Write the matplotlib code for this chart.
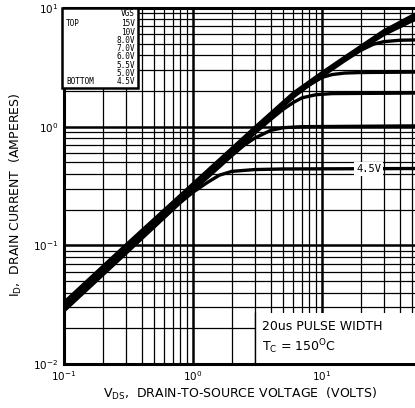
import numpy as np
import matplotlib
matplotlib.use('Agg')
import matplotlib.pyplot as plt
from matplotlib.patches import Rectangle
from matplotlib.ticker import LogLocator, NullFormatter

# drain curves (VDS in volts, ID in amperes)
vds_15v = [0.1, 0.3, 1, 3, 6, 10, 15, 20, 30, 50, 100]
id_15v = [0.033, 0.100, 0.33, 0.98, 1.92, 2.85, 3.85, 4.75, 6.4, 8.6, 12.5]

vds_10v = [0.1, 0.3, 1, 3, 6, 10, 15, 20, 30, 50, 100]
id_10v = [0.032, 0.097, 0.32, 0.96, 1.88, 2.78, 3.75, 4.6, 6.15, 8.2, 11.5]

vds_8v = [0.1, 0.3, 1, 3, 6, 10, 15, 20, 30, 50, 100]
id_8v = [0.031, 0.095, 0.31, 0.94, 1.85, 2.72, 3.68, 4.5, 5.95, 7.8, 10.2]

vds_7v = [0.1, 0.3, 1, 3, 6, 10, 15, 20, 25, 30, 40, 100]
id_7v = [0.031, 0.093, 0.31, 0.92, 1.82, 2.66, 3.6, 4.4, 4.95, 5.2, 5.35, 5.45]

vds_6v = [0.1, 0.3, 1, 3, 6, 8, 10, 12, 15, 20, 100]
id_6v = [0.030, 0.091, 0.30, 0.90, 1.78, 2.25, 2.6, 2.75, 2.83, 2.86, 2.9]

vds_55v = [0.1, 0.3, 1, 3, 4, 5, 6, 7, 9, 12, 100]
id_55v = [0.030, 0.090, 0.30, 0.88, 1.15, 1.4, 1.6, 1.75, 1.86, 1.9, 1.93]

vds_5v = [0.1, 0.3, 1, 2, 2.5, 3, 4, 5, 7, 100]
id_5v = [0.029, 0.088, 0.29, 0.57, 0.70, 0.80, 0.93, 0.98, 1.0, 1.02]

vds_45v = [0.1, 0.3, 0.8, 1, 1.3, 1.6, 2, 3, 5, 100]
id_45v = [0.028, 0.085, 0.23, 0.28, 0.34, 0.39, 0.42, 0.435, 0.44, 0.445]

legend_vgs = ['15V', '10V', '8.0V', '7.0V', '6.0V', '5.5V', '5.0V', '4.5V']
x_ticks = [0.1, 1, 10]
y_ticks = [0.01, 0.1, 1, 10]

W, H = 415, 408


def fx(px):
    return px / W


def fy(py):
    # pixel row from top -> figure fraction from bottom
    return 1 - py / H


fig = plt.figure(figsize=(W / 100, H / 100), dpi=100)
ax = fig.add_axes([fx(64), fy(364), fx(387), 356 / H])
ax.set_xscale('log')
ax.set_yscale('log')
ax.set_xlim(0.1, 100)
ax.set_ylim(0.01, 10)

ax.xaxis.set_minor_locator(LogLocator(base=10, subs=np.arange(2, 10)))
ax.yaxis.set_minor_locator(LogLocator(base=10, subs=np.arange(2, 10)))
ax.xaxis.set_minor_formatter(NullFormatter())
ax.yaxis.set_minor_formatter(NullFormatter())
ax.set_xticks(x_ticks)
ax.set_yticks(y_ticks)
ax.grid(True, which='major', color='black', lw=1.8)
ax.grid(True, which='minor', color='black', lw=0.9)
# the 10^2 gridline sits outside the cropped picture anyway
ax.set_axisbelow(True)
ax.tick_params(which='both', length=0, labelsize=7.5, pad=4)
for s in ax.spines.values():
    s.set_linewidth(2.2)

curves = [(vds_15v, id_15v), (vds_10v, id_10v), (vds_8v, id_8v),
          (vds_7v, id_7v), (vds_6v, id_6v), (vds_55v, id_55v),
          (vds_5v, id_5v), (vds_45v, id_45v)]
for v, i in curves:
    ax.plot(v, i, color='black', lw=2.4, solid_capstyle='butt', zorder=3)

ax.text(23, 0.44, '4.5V', fontsize=7.5, family='DejaVu Sans Mono', ha='center', va='center',
        bbox=dict(facecolor='white', edgecolor='none', pad=1.5), zorder=4)

# legend box, top left
fig.add_artist(Rectangle((fx(62), fy(88)), fx(76), 80 / H, transform=fig.transFigure,
                         facecolor='white', edgecolor='black', lw=1.8, zorder=5))
mono = dict(family='DejaVu Sans Mono', fontsize=5.6, zorder=6, va='center')
fig.text(fx(135), fy(14), 'VGS', ha='right', **mono)
fig.text(fx(66), fy(24), 'TOP', ha='left', **mono)
fig.text(fx(66), fy(81), 'BOTTOM', ha='left', **mono)
for k, lab in enumerate(legend_vgs):
    fig.text(fx(135), fy(24 + k * 8.2), lab, ha='right', **mono)

# pulse width note, bottom right
fig.add_artist(Rectangle((fx(255), fy(363)), fx(170), 50 / H, transform=fig.transFigure,
                         facecolor='white', edgecolor='none', zorder=5))
fig.add_artist(plt.Line2D([fx(255), fx(255)], [fy(363), fy(313)], transform=fig.transFigure,
                          color='black', lw=1.0, zorder=6))
fig.text(fx(262), fy(327), '20us PULSE WIDTH', fontsize=9, va='center', ha='left', zorder=6)
fig.text(fx(262), fy(347), r'$\mathregular{T_C}$ = 150$\mathregular{^O}$C', fontsize=9,
         va='center', ha='left', zorder=6)

fig.text(fx(16), fy(195), r'$\mathregular{I_D}$,  DRAIN CURRENT  (AMPERES)', rotation=90,
         fontsize=9, ha='center', va='center')
fig.text(fx(240), fy(394), r'$\mathregular{V_{DS}}$,  DRAIN-TO-SOURCE VOLTAGE  (VOLTS)',
         fontsize=9, ha='center', va='center')

fig.savefig('out.png', dpi=100)
